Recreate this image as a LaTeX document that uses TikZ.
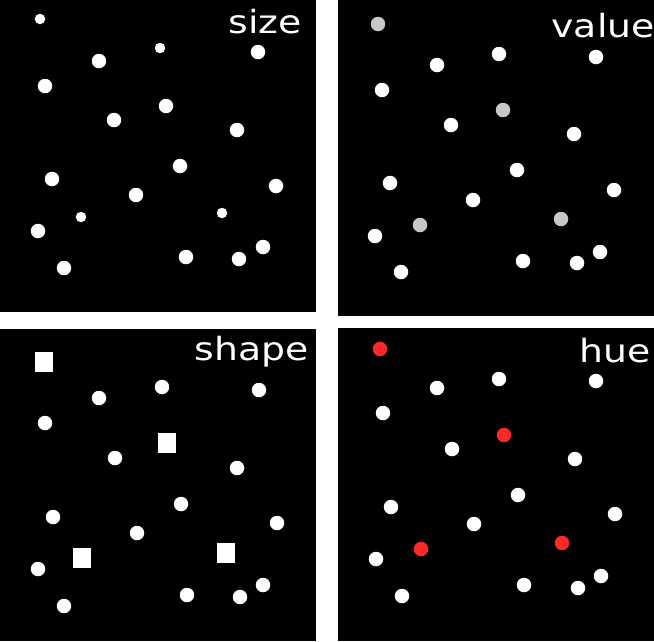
\documentclass[tikz,border=0pt]{standalone}
\usepackage{fontspec}
\setmainfont{DejaVu Sans}
\definecolor{dotgray}{RGB}{200,200,200}
\definecolor{dotred}{RGB}{255,40,40}
\begin{document}
\begin{tikzpicture}[x=1pt,y=-1pt,
  panel/.style={fill=black,draw=none},
  dot/.style={circle,fill=white,draw=none,inner sep=0pt,minimum size=14.5pt},
  smalldot/.style={circle,fill=white,draw=none,inner sep=0pt,minimum size=10.5pt},
  sq/.style={rectangle,fill=white,draw=none,inner sep=0pt,minimum width=18pt,minimum height=19.5pt},
  lbl/.style={text=white,inner sep=0pt,anchor=base east,xscale=1.18,font=\fontsize{32}{36}\selectfont}]
\useasboundingbox (0,0) rectangle (654,641);
\fill[white] (0,0) rectangle (654,641);
% panels
\fill[panel] (0,0) rectangle (315.5,311.5);
\fill[panel] (338,0) rectangle (654,316);
\fill[panel] (0,328.5) rectangle (315.5,641);
\fill[panel] (338,328) rectangle (654,641);
% size panel
\node[smalldot] (s1) at (40,19) {};
\node[dot] (s2) at (99,61) {};
\node[smalldot] (s3) at (160,48) {};
\node[dot] (s4) at (258,52) {};
\node[dot] (s5) at (45,86) {};
\node[dot] (s6) at (114,120) {};
\node[dot] (s7) at (166,106) {};
\node[dot] (s8) at (237,130) {};
\node[dot] (s9) at (52,179) {};
\node[dot] (s10) at (180,166) {};
\node[dot] (s11) at (136,195) {};
\node[dot] (s12) at (276,186) {};
\node[smalldot] (s13) at (81,217) {};
\node[smalldot] (s14) at (222,213) {};
\node[dot] (s15) at (38,231) {};
\node[dot] (s16) at (64,268) {};
\node[dot] (s17) at (186,257) {};
\node[dot] (s18) at (239,259) {};
\node[dot] (s19) at (263,247) {};
\node[lbl] (sizelbl) at (302,33) {size};
% value panel
\node[dot,fill=dotgray] (v1) at (378,24) {};
\node[dot] (v2) at (437,65) {};
\node[dot] (v3) at (499,54) {};
\node[dot] (v4) at (596,57) {};
\node[dot] (v5) at (382,90) {};
\node[dot] (v6) at (451,125) {};
\node[dot,fill=dotgray] (v7) at (503,110) {};
\node[dot] (v8) at (574,134) {};
\node[dot] (v9) at (390,183) {};
\node[dot] (v10) at (517,170) {};
\node[dot] (v11) at (473,200) {};
\node[dot] (v12) at (614,190) {};
\node[dot,fill=dotgray] (v13) at (420,225) {};
\node[dot,fill=dotgray] (v14) at (561,219) {};
\node[dot] (v15) at (375,236) {};
\node[dot] (v16) at (401,272) {};
\node[dot] (v17) at (523,261) {};
\node[dot] (v18) at (577,263) {};
\node[dot] (v19) at (600,252) {};
\node[lbl] (valuelbl) at (655,37) {value};
% shape panel
\node[sq] (p1) at (44,362) {};
\node[dot] (p2) at (99,398) {};
\node[dot] (p3) at (162,387) {};
\node[dot] (p4) at (259,390) {};
\node[dot] (p5) at (45,423) {};
\node[dot] (p6) at (115,458) {};
\node[sq] (p7) at (167,443) {};
\node[dot] (p8) at (237,468) {};
\node[dot] (p9) at (53,517) {};
\node[dot] (p10) at (181,504) {};
\node[dot] (p11) at (137,533) {};
\node[dot] (p12) at (277,523) {};
\node[sq] (p13) at (82,558) {};
\node[sq] (p14) at (226,553) {};
\node[dot] (p15) at (38,569) {};
\node[dot] (p16) at (64,606) {};
\node[dot] (p17) at (187,595) {};
\node[dot] (p18) at (240,597) {};
\node[dot] (p19) at (263,585) {};
\node[lbl] (shapelbl) at (309,360) {shape};
% hue panel
\node[dot,fill=dotred] (h1) at (380,349) {};
\node[dot] (h2) at (437,388) {};
\node[dot] (h3) at (499,379) {};
\node[dot] (h4) at (596,381) {};
\node[dot] (h5) at (383,413) {};
\node[dot] (h6) at (452,449) {};
\node[dot,fill=dotred] (h7) at (504,435) {};
\node[dot] (h8) at (575,459) {};
\node[dot] (h9) at (391,507) {};
\node[dot] (h10) at (518,495) {};
\node[dot] (h11) at (474,524) {};
\node[dot] (h12) at (615,514) {};
\node[dot,fill=dotred] (h13) at (421,549) {};
\node[dot,fill=dotred] (h14) at (562,543) {};
\node[dot] (h15) at (376,559) {};
\node[dot] (h16) at (402,596) {};
\node[dot] (h17) at (524,585) {};
\node[dot] (h18) at (578,588) {};
\node[dot] (h19) at (601,576) {};
\node[lbl] (huelbl) at (651,362) {hue};
\end{tikzpicture}
\end{document}
